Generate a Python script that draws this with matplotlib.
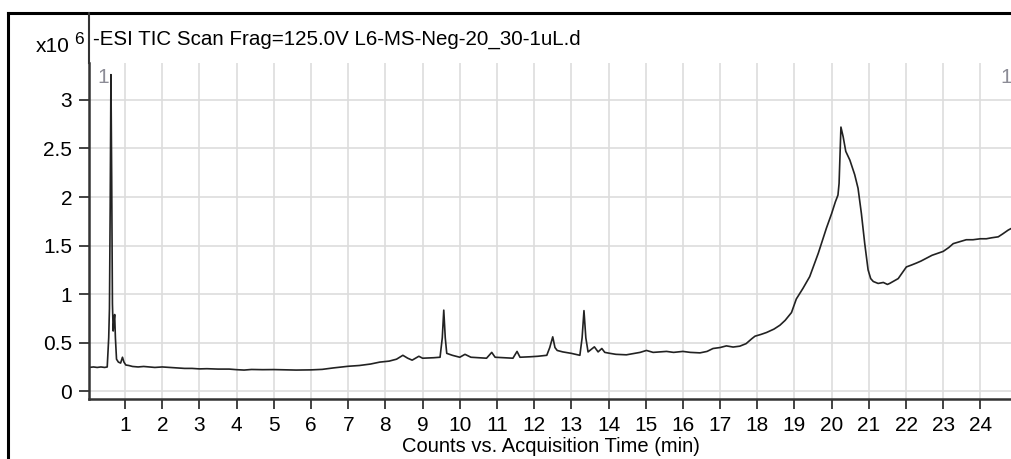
import matplotlib
matplotlib.use("Agg")
import matplotlib.pyplot as plt
from matplotlib.lines import Line2D

# fonts (instrument software uses a narrow Arial; closest installed is Liberation Sans)
FONT = ['Liberation Sans', 'DejaVu Sans']
plt.rcParams['font.family'] = FONT

TITLE = "-ESI TIC Scan Frag=125.0V L6-MS-Neg-20_30-1uL.d"
XLABEL = "Counts vs. Acquisition Time (min)"

# acquisition time (min) and counts (x10^6)
time_min = [0.03, 0.15, 0.25, 0.35, 0.45, 0.52, 0.56, 0.58, 0.60, 0.62,
            0.64, 0.66, 0.68, 0.70, 0.72, 0.74, 0.77, 0.82, 0.88, 0.93,
            0.97, 1.02, 1.1, 1.2, 1.35, 1.5, 1.65, 1.8, 2.0, 2.2,
            2.4, 2.6, 2.8, 3.0, 3.2, 3.5, 3.8, 4.0, 4.2, 4.4,
            4.7, 5.0, 5.3, 5.6, 6.0, 6.3, 6.6, 7.0, 7.3, 7.6,
            7.85, 8.1, 8.3, 8.47, 8.6, 8.72, 8.9, 9.0, 9.3, 9.47,
            9.53, 9.57, 9.61, 9.65, 9.8, 10.0, 10.14, 10.3, 10.5, 10.72,
            10.86, 10.95, 11.2, 11.43, 11.54, 11.62, 11.9, 12.1, 12.34, 12.42,
            12.5, 12.56, 12.62, 12.77, 13.0, 13.23, 13.29, 13.34, 13.39, 13.45,
            13.53, 13.62, 13.72, 13.82, 13.9, 14.04, 14.2, 14.48, 14.7, 14.85,
            15.02, 15.2, 15.4, 15.56, 15.75, 16.0, 16.2, 16.46, 16.65, 16.81,
            17.0, 17.17, 17.35, 17.53, 17.7, 17.85, 17.94, 18.1, 18.25, 18.45,
            18.61, 18.75, 18.92, 19.05, 19.23, 19.41, 19.64, 19.86, 20.0, 20.1,
            20.17, 20.2, 20.25, 20.31, 20.38, 20.49, 20.62, 20.71, 20.8, 20.89,
            20.98, 21.05, 21.12, 21.25, 21.39, 21.5, 21.56, 21.7, 21.79, 21.9,
            22.01, 22.15, 22.28, 22.4, 22.55, 22.7, 22.85, 23.0, 23.15, 23.27,
            23.45, 23.62, 23.8, 24.0, 24.16, 24.3, 24.48, 24.6, 24.75, 24.85]
counts = [0.245, 0.25, 0.245, 0.25, 0.245, 0.25, 0.55, 0.85, 1.9, 3.26,
          2.2, 0.9, 0.62, 0.72, 0.79, 0.55, 0.33, 0.30, 0.29, 0.35,
          0.30, 0.27, 0.265, 0.255, 0.25, 0.255, 0.25, 0.245, 0.25, 0.245,
          0.24, 0.235, 0.235, 0.23, 0.232, 0.228, 0.228, 0.222, 0.218, 0.224,
          0.222, 0.223, 0.22, 0.218, 0.22, 0.225, 0.24, 0.257, 0.265, 0.28,
          0.30, 0.31, 0.33, 0.37, 0.34, 0.32, 0.36, 0.34, 0.345, 0.35,
          0.55, 0.835, 0.55, 0.39, 0.37, 0.35, 0.38, 0.35, 0.345, 0.34,
          0.40, 0.35, 0.345, 0.34, 0.41, 0.35, 0.355, 0.36, 0.37, 0.45,
          0.56, 0.45, 0.42, 0.405, 0.39, 0.37, 0.55, 0.83, 0.55, 0.405,
          0.43, 0.457, 0.405, 0.44, 0.40, 0.39, 0.38, 0.375, 0.39, 0.40,
          0.42, 0.40, 0.405, 0.41, 0.40, 0.41, 0.40, 0.395, 0.41, 0.44,
          0.45, 0.467, 0.455, 0.464, 0.49, 0.54, 0.567, 0.585, 0.605, 0.64,
          0.68, 0.73, 0.81, 0.95, 1.06, 1.18, 1.42, 1.68, 1.83, 1.95,
          2.02, 2.14, 2.72, 2.62, 2.47, 2.38, 2.23, 2.09, 1.83, 1.52,
          1.25, 1.16, 1.13, 1.11, 1.12, 1.10, 1.11, 1.14, 1.16, 1.22,
          1.28, 1.30, 1.32, 1.34, 1.37, 1.40, 1.42, 1.44, 1.48, 1.52,
          1.54, 1.56, 1.56, 1.57, 1.57, 1.58, 1.59, 1.62, 1.66, 1.68]

x_ticks = list(range(1, 25))
y_ticks = [0, 0.5, 1, 1.5, 2, 2.5, 3]
y_tick_labels = ["0", "0.5", "1", "1.5", "2", "2.5", "3"]

W, H = 1012, 459
fig = plt.figure(figsize=(W / 100, H / 100), dpi=100)

# plot area in pixels: left 89, right 1012, top 63, bottom 399
ax = fig.add_axes([89 / W, 1 - 399 / H, (1012 - 89) / W, (399 - 63) / H])
ax.plot(time_min, counts, color='#222222', lw=1.2)
ax.set_xlim(0.03, 24.85)
ax.set_ylim(-0.08, 3.38)

ax.set_xticks(x_ticks)
ax.set_yticks(y_ticks)
ax.set_yticklabels(y_tick_labels)
ax.grid(True, color='#dddddd', lw=1.2)
ax.set_axisbelow(True)
ax.tick_params(axis='both', direction='out', length=7, width=1.2,
               color='#222222', labelsize=15, pad=5)
for s in ['top', 'right']:
    ax.spines[s].set_visible(False)
for s in ['left', 'bottom']:
    ax.spines[s].set_color('#333333')
    ax.spines[s].set_linewidth(1.8)
ax.set_xlabel(XLABEL, fontsize=14.5, labelpad=2)

# little "1" markers in the plot corners
ax.text(0.009, 0.985, "1", transform=ax.transAxes, ha='left', va='top',
        color='#8c8c96', fontsize=15)
ax.text(1.0, 0.985, "1", transform=ax.transAxes, ha='right', va='top',
        color='#8c8c96', fontsize=15)

# outer frame and header box
fig.add_artist(Line2D([8 / W, 8 / W], [0, 1 - 13 / H], color='black', lw=2.2,
                      transform=fig.transFigure))
fig.add_artist(Line2D([8 / W, 1], [1 - 13 / H, 1 - 13 / H], color='black', lw=2.2,
                      transform=fig.transFigure))
fig.add_artist(Line2D([89 / W, 89 / W], [1 - 13 / H, 1 - 63 / H], color='#333333',
                      lw=1.5, transform=fig.transFigure))

fig.text(93 / W, 1 - 39 / H, TITLE, ha='left', va='center', fontsize=14.8)
fig.text(70 / W, 1 - 46 / H, "x10", ha='right', va='center', fontsize=15)
fig.text(74 / W, 1 - 40 / H, "6", ha='left', va='center', fontsize=12.5)

fig.savefig("out.png", dpi=100)
